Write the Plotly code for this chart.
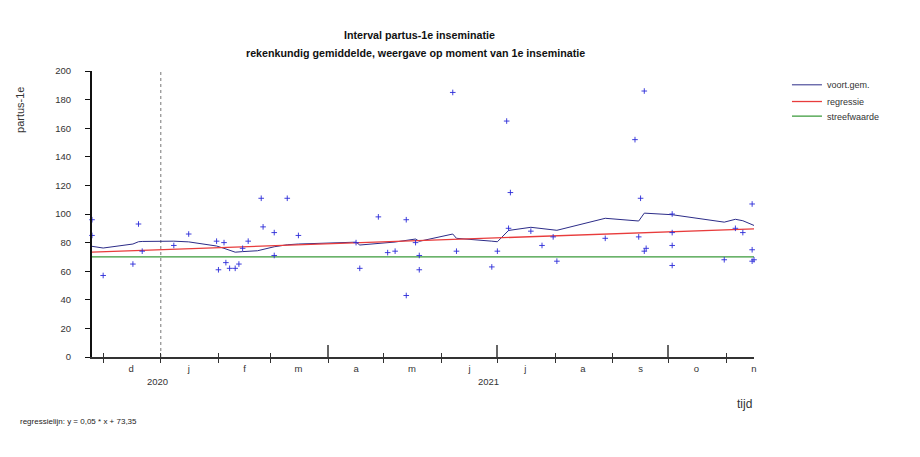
import plotly.graph_objects as go

# ---------------- data ----------------
point_dates = [
    "2020-11-25", "2020-11-25", "2020-12-01", "2020-12-17", "2020-12-20", "2020-12-22",
    "2021-01-08", "2021-01-16", "2021-01-31", "2021-02-01", "2021-02-04", "2021-02-05",
    "2021-02-07", "2021-02-10", "2021-02-12", "2021-02-14", "2021-02-17", "2021-02-24",
    "2021-02-25", "2021-03-03", "2021-03-03", "2021-03-10", "2021-03-16", "2021-04-16",
    "2021-04-18", "2021-04-28", "2021-05-03", "2021-05-07", "2021-05-13", "2021-05-13",
    "2021-05-18", "2021-05-20", "2021-05-20", "2021-06-07", "2021-06-09", "2021-06-28",
    "2021-07-01", "2021-07-06", "2021-07-07", "2021-07-08", "2021-07-19", "2021-07-25",
    "2021-07-31", "2021-08-02", "2021-08-28", "2021-09-13", "2021-09-15", "2021-09-16",
    "2021-09-18", "2021-09-18", "2021-09-19", "2021-10-03", "2021-10-03", "2021-10-03",
    "2021-10-03", "2021-10-31", "2021-11-06", "2021-11-10", "2021-11-15", "2021-11-15",
    "2021-11-15", "2021-11-16",
]
point_values = [
    96, 85, 57, 65, 93, 74,
    78, 86, 81, 61, 80, 66,
    62, 62, 65, 76, 81, 111,
    91, 87, 71, 111, 85, 80,
    62, 98, 73, 74, 96, 43,
    80, 71, 61, 185, 74, 63,
    74, 165, 90, 115, 88, 78,
    84, 67, 83, 152, 84, 111,
    74, 186, 76, 100, 87, 78,
    64, 68, 90, 87, 107, 75,
    67, 68,
]

avg_dates = [
    "2020-11-25", "2020-12-01", "2020-12-17", "2020-12-20", "2020-12-22", "2021-01-08",
    "2021-01-16", "2021-01-31", "2021-02-04", "2021-02-10", "2021-02-14", "2021-02-22",
    "2021-03-03", "2021-03-10", "2021-03-16", "2021-04-16", "2021-04-18", "2021-04-28",
    "2021-05-07", "2021-05-18", "2021-05-20", "2021-06-07", "2021-06-09", "2021-06-28",
    "2021-07-01", "2021-07-07", "2021-07-19", "2021-08-02", "2021-08-28", "2021-09-15",
    "2021-09-18", "2021-10-03", "2021-10-31", "2021-11-06", "2021-11-10", "2021-11-16",
]
avg_values = [
    77.4, 76.2, 79.0, 80.6, 80.8, 81.0,
    80.5, 77.6, 76.0, 73.3, 73.7, 74.3,
    77.1, 78.5, 79.0, 80.3, 78.3, 79.3,
    80.4, 82.5, 80.9, 86.0, 83.0, 81.0,
    80.6, 88.5, 90.7, 88.6, 97.0, 95.1,
    100.6, 99.5, 94.3, 96.3, 95.3, 92.0,
]

range_dates = ["2020-11-25", "2021-11-16"]
regression_values = [73.35, 89.6]
target_value = 70
year_boundary = ["2021-01-01", "2021-01-01"]

month_starts = ["2020-12-01", "2021-01-01", "2021-02-01", "2021-03-01", "2021-04-01",
                "2021-05-01", "2021-06-01", "2021-07-01", "2021-08-01", "2021-09-01",
                "2021-10-01", "2021-11-01"]
quarter_starts = ["2021-04-01", "2021-07-01", "2021-10-01"]
other_starts = [d for d in month_starts if d not in quarter_starts]
month_mids = ["2020-12-16", "2021-01-16", "2021-02-15", "2021-03-16", "2021-04-16",
              "2021-05-16", "2021-06-16", "2021-07-16", "2021-08-16", "2021-09-16",
              "2021-10-16", "2021-11-16"]
month_labels = ["d", "j", "f", "m", "a", "m", "j", "j", "a", "s", "o", "n"]
year_labels = ["2020", "2021"]
year_label_dates = ["2020-12-30", "2021-06-26"]
y_ticks = [0, 20, 40, 60, 80, 100, 120, 140, 160, 180, 200]

FONT = "Liberation Sans, Arial, sans-serif"

fig = go.Figure()

fig.add_trace(go.Scatter(
    x=year_boundary, y=[0, 200], mode="lines",
    line=dict(color="#777777", width=1, dash="dot"),
    showlegend=False, hoverinfo="skip"))

fig.add_trace(go.Scatter(
    x=avg_dates, y=avg_values, mode="lines", name="voort.gem.", legend="legend",
    line=dict(color="#2c2c88", width=1)))

fig.add_trace(go.Scatter(
    x=range_dates, y=regression_values, mode="lines", name="regressie", legend="legend2",
    line=dict(color="#e83c3c", width=1.3)))

fig.add_trace(go.Scatter(
    x=range_dates, y=[target_value, target_value], mode="lines", name="streefwaarde",
    legend="legend3", line=dict(color="#3a9a3a", width=1.2)))

fig.add_trace(go.Scatter(
    x=point_dates, y=point_values, mode="markers", showlegend=False,
    marker=dict(symbol="cross-thin", size=4, color="#2a2ad8",
                line=dict(color="#2a2ad8", width=0.9)),
    cliponaxis=False))

axis_common = dict(type="date", range=range_dates, showgrid=False, zeroline=False)

legend_common = dict(x=1.0498, xanchor="left", yanchor="top",
                     font=dict(size=9, color="#333333"), bgcolor="rgba(0,0,0,0)",
                     itemwidth=30)

fig.update_layout(
    width=920, height=457,
    margin=dict(l=92, r=166, t=71, b=100),
    paper_bgcolor="white", plot_bgcolor="white",
    font=dict(family=FONT, color="#333333", size=10),
    xaxis=dict(
        **axis_common,
        showline=True, linecolor="#333333", linewidth=2,
        tickmode="array", tickvals=month_mids, ticktext=month_labels,
        ticks="", tickfont=dict(size=9.5, color="#333333"),
        ticklabelstandoff=2,
        minor=dict(tickmode="array", tickvals=month_starts, ticks="outside",
                   ticklen=4, tickcolor="#333333", tickwidth=1, showgrid=False),
    ),
    xaxis2=dict(
        **axis_common, overlaying="x", anchor="y",
        showline=False, showticklabels=False,
        tickmode="array", tickvals=quarter_starts, ticks="inside",
        ticklen=12, tickcolor="#666666", tickwidth=1.5,
        minor=dict(tickmode="array", tickvals=other_starts, ticks="inside",
                   ticklen=4, tickcolor="#333333", tickwidth=1, showgrid=False),
    ),
    yaxis=dict(
        range=[0, 200], showgrid=False, zeroline=False,
        showline=True, linecolor="#111111", linewidth=2,
        tickmode="array", tickvals=y_ticks, ticks="outside", ticklen=5,
        tickcolor="#111111", tickfont=dict(size=9.5, color="#333333"),
        ticklabelstandoff=12,
    ),
    legend=dict(y=1.0024, **legend_common),
    legend2=dict(y=0.944, **legend_common),
    legend3=dict(y=0.893, **legend_common),
    showlegend=True,
)

# invisible trace to activate xaxis2
fig.add_trace(go.Scatter(x=range_dates, y=[None, None], xaxis="x2", yaxis="y",
                         showlegend=False, hoverinfo="skip"))

annotations = [
    dict(text="<b>Interval partus-1e inseminatie</b>", x=0.494, y=1.126,
         font=dict(size=10.7, color="#111111")),
    dict(text="<b>rekenkundig gemiddelde, weergave op moment van 1e inseminatie</b>",
         x=0.489, y=1.064, font=dict(size=10.7, color="#111111")),
    dict(text="partus-1e", x=-0.1088, y=0.8636, textangle=-90,
         font=dict(size=11, color="#333333")),
    dict(text="tijd", x=0.985, y=-0.164, font=dict(size=12, color="#333333")),
    dict(text="regressielijn: y = 0,05 * x + 73,35", x=-0.1118, y=-0.224, xanchor="left",
         font=dict(size=8, color="#222222")),
]
for a in annotations:
    a.setdefault("xanchor", "center")
    fig.add_annotation(xref="paper", yref="paper", yanchor="middle", showarrow=False, **a)

for lbl, d in zip(year_labels, year_label_dates):
    fig.add_annotation(xref="x", yref="paper", x=d, y=-0.0857, text=lbl, showarrow=False,
                       xanchor="center", yanchor="middle",
                       font=dict(size=9.5, color="#333333"))

fig.write_html("out.html")
